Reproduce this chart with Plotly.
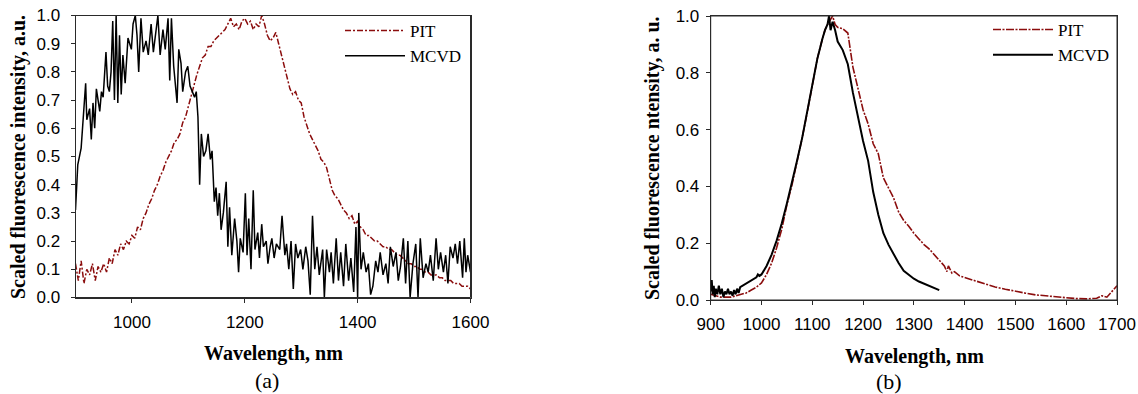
import plotly.graph_objects as go

# ---------------- data: panel (a) ----------------
pit_a_wl = [
    900, 905, 910, 915, 920, 925, 930, 935, 940, 945,
    950, 955, 960, 965, 970, 975, 980, 985, 990, 995,
    1000, 1005, 1010, 1015, 1020, 1025, 1030, 1035, 1040, 1045,
    1050, 1055, 1060, 1065, 1070, 1075, 1080, 1085, 1090, 1095,
    1100, 1105, 1110, 1115, 1120, 1125, 1130, 1135, 1140, 1145,
    1150, 1155, 1160, 1165, 1170, 1175, 1180, 1185, 1190, 1195,
    1200, 1205, 1210, 1215, 1220, 1225, 1230, 1235, 1240, 1245,
    1250, 1255, 1260, 1265, 1270, 1275, 1280, 1285, 1290, 1295,
    1300, 1305, 1310, 1315, 1320, 1325, 1330, 1335, 1340, 1345,
    1350, 1355, 1360, 1365, 1370, 1375, 1380, 1385, 1390, 1395,
    1400, 1405, 1410, 1415, 1420, 1425, 1430, 1435, 1440, 1445,
    1450, 1455, 1460, 1465, 1470, 1475, 1480, 1485, 1490, 1495,
    1500, 1505, 1510, 1515, 1520, 1525, 1530, 1535, 1540, 1545,
    1550, 1555, 1560, 1565, 1570, 1575, 1580, 1585, 1590, 1595,
    1600]
pit_a_int = [
    0.12, 0.06, 0.13, 0.05, 0.10, 0.08, 0.12, 0.06, 0.11, 0.09,
    0.12, 0.09, 0.14, 0.12, 0.17, 0.15, 0.19, 0.17, 0.20, 0.19,
    0.22, 0.21, 0.25, 0.24, 0.28, 0.30, 0.33, 0.35, 0.38, 0.40,
    0.43, 0.45, 0.48, 0.50, 0.52, 0.55, 0.56, 0.58, 0.62, 0.64,
    0.68, 0.71, 0.76, 0.79, 0.82, 0.85, 0.86, 0.89, 0.89, 0.91,
    0.92, 0.93, 0.94, 0.95, 0.97, 0.99, 0.96, 0.97, 0.95, 0.98,
    0.99, 0.97, 0.98, 0.95, 0.97, 0.96, 1.00, 0.97, 0.93, 0.91,
    0.92, 0.94, 0.90, 0.86, 0.81, 0.77, 0.74, 0.72, 0.73, 0.70,
    0.69, 0.64, 0.61, 0.58, 0.56, 0.54, 0.52, 0.49, 0.48, 0.46,
    0.42, 0.38, 0.36, 0.35, 0.33, 0.31, 0.30, 0.28, 0.29, 0.26,
    0.27, 0.25, 0.24, 0.22, 0.22, 0.21, 0.20, 0.20, 0.19, 0.18,
    0.18, 0.17, 0.17, 0.16, 0.15, 0.15, 0.14, 0.13, 0.12, 0.12,
    0.11, 0.11, 0.10, 0.10, 0.09, 0.09, 0.08, 0.08, 0.08, 0.07,
    0.07, 0.06, 0.06, 0.06, 0.05, 0.05, 0.05, 0.04, 0.04, 0.04,
    0.03]

mcvd_a_wl = [
    900, 904, 910, 918, 920, 925, 928, 931, 934, 937,
    943, 946, 949, 954, 957, 960, 963, 966, 969, 972,
    975, 978, 981, 984, 988, 993, 999, 1002, 1006, 1009,
    1012, 1016, 1020, 1025, 1029, 1034, 1038, 1043, 1046, 1050,
    1055, 1059, 1064, 1067, 1070, 1074, 1080, 1083, 1087, 1090,
    1095, 1099, 1103, 1107, 1111, 1114, 1117, 1120, 1123, 1127,
    1131, 1135, 1139, 1142, 1146, 1149, 1152, 1155, 1158, 1162,
    1167, 1170, 1173, 1177, 1182, 1186, 1189, 1192, 1197, 1201,
    1204, 1207, 1211, 1215, 1218, 1223, 1226, 1230, 1233, 1238,
    1241, 1245, 1248, 1252, 1256, 1262, 1266, 1271, 1274, 1278,
    1282, 1286, 1290, 1294, 1299, 1303, 1308, 1312, 1316, 1320,
    1324, 1328, 1332, 1338, 1341, 1345, 1350, 1353, 1357, 1362,
    1366, 1370, 1375, 1379, 1384, 1388, 1393, 1397, 1400, 1402,
    1406, 1410, 1415, 1419, 1423, 1427, 1432, 1436, 1440, 1445,
    1450, 1454, 1458, 1463, 1468, 1472, 1476, 1481, 1485, 1489,
    1493, 1498, 1503, 1507, 1511, 1516, 1521, 1525, 1529, 1534,
    1539, 1543, 1547, 1552, 1556, 1560, 1564, 1569, 1573, 1577,
    1581, 1586, 1589, 1592, 1595, 1600]
mcvd_a_int = [
    0.31, 0.47, 0.53, 0.76, 0.63, 0.67, 0.56, 0.69, 0.60, 0.74,
    0.66, 0.73, 0.71, 0.87, 0.75, 0.73, 0.80, 0.98, 0.70, 1.00,
    0.69, 0.93, 0.72, 0.86, 0.76, 0.92, 0.88, 0.97, 1.00, 0.93,
    0.80, 0.99, 0.87, 0.91, 0.86, 0.97, 0.87, 0.95, 1.00, 0.86,
    0.95, 0.88, 0.99, 0.77, 0.99, 0.82, 0.69, 0.88, 0.83, 0.73,
    0.80, 0.82, 0.75, 0.73, 0.71, 0.73, 0.64, 0.40, 0.58, 0.50,
    0.52, 0.58, 0.49, 0.52, 0.34, 0.39, 0.29, 0.37, 0.24, 0.30,
    0.41, 0.18, 0.32, 0.15, 0.28, 0.20, 0.09, 0.21, 0.16, 0.37,
    0.15, 0.28, 0.10, 0.38, 0.17, 0.23, 0.14, 0.26, 0.18, 0.20,
    0.12, 0.18, 0.21, 0.14, 0.19, 0.17, 0.29, 0.15, 0.19, 0.10,
    0.20, 0.03, 0.19, 0.14, 0.17, 0.10, 0.18, 0.13, 0.01, 0.29,
    0.10, 0.18, 0.08, 0.17, 0.00, 0.17, 0.09, 0.16, 0.05, 0.21,
    0.06, 0.16, 0.04, 0.19, 0.06, 0.14, 0.02, 0.25, 0.00, 0.30,
    0.10, 0.16, 0.09, 0.12, 0.01, 0.04, 0.13, 0.09, 0.16, 0.08,
    0.12, 0.05, 0.18, 0.11, 0.16, 0.06, 0.11, 0.21, 0.05, 0.20,
    0.00, 0.12, 0.19, 0.00, 0.21, 0.07, 0.12, 0.09, 0.15, 0.06,
    0.21, 0.10, 0.16, 0.09, 0.15, 0.05, 0.18, 0.14, 0.19, 0.12,
    0.20, 0.07, 0.21, 0.09, 0.15, 0.09]

# ---------------- data: panel (b) ----------------
pit_b_wl = [
    900, 910, 920, 930, 940, 950, 960, 970, 980, 990,
    1000, 1010, 1020, 1030, 1040, 1050, 1060, 1070, 1080, 1090,
    1100, 1110, 1120, 1125, 1130, 1135, 1140, 1145, 1150, 1160,
    1170, 1180, 1190, 1200, 1210, 1220, 1230, 1240, 1250, 1260,
    1270, 1280, 1290, 1300, 1310, 1320, 1330, 1340, 1350, 1360,
    1365, 1368, 1375, 1380, 1390, 1400, 1420, 1440, 1460, 1480,
    1500, 1520, 1540, 1560, 1580, 1600, 1620, 1640, 1660, 1670,
    1680, 1690, 1700]
pit_b_int = [
    0.020, 0.015, 0.010, 0.010, 0.010, 0.015, 0.020, 0.025, 0.035, 0.045,
    0.060, 0.090, 0.130, 0.185, 0.250, 0.335, 0.405, 0.485, 0.570, 0.660,
    0.760, 0.850, 0.920, 0.950, 0.970, 0.985, 1.000, 0.970, 0.960, 0.955,
    0.940, 0.820, 0.740, 0.670, 0.620, 0.550, 0.515, 0.430, 0.395, 0.360,
    0.310, 0.280, 0.260, 0.235, 0.215, 0.195, 0.180, 0.160, 0.140, 0.120,
    0.100, 0.120, 0.095, 0.100, 0.085, 0.080, 0.068, 0.057, 0.046, 0.038,
    0.030, 0.024, 0.018, 0.014, 0.011, 0.008, 0.005, 0.004, 0.006, 0.015,
    0.010, 0.030, 0.050]

mcvd_b_wl = [
    900, 902, 904, 906, 908, 910, 913, 916, 919, 922,
    925, 928, 931, 934, 937, 940, 943, 946, 949, 952,
    955, 958, 990, 993, 996, 1000, 1010, 1020, 1030, 1040,
    1050, 1060, 1070, 1080, 1090, 1100, 1110, 1120, 1125, 1130,
    1133, 1136, 1140, 1145, 1150, 1160, 1170, 1180, 1190, 1200,
    1210, 1220, 1230, 1240, 1250, 1260, 1270, 1280, 1290, 1300,
    1310, 1320, 1330, 1340, 1350]
mcvd_b_int = [
    0.030, 0.070, 0.020, 0.050, 0.010, 0.040, 0.020, 0.050, 0.020, 0.040,
    0.010, 0.030, 0.020, 0.040, 0.020, 0.030, 0.015, 0.035, 0.020, 0.040,
    0.025, 0.045, 0.080, 0.090, 0.085, 0.090, 0.120, 0.160, 0.210, 0.270,
    0.340, 0.410, 0.490, 0.570, 0.660, 0.760, 0.850, 0.920, 0.950, 0.970,
    1.000, 0.950, 0.980, 0.950, 0.910, 0.880, 0.830, 0.730, 0.640, 0.560,
    0.490, 0.380, 0.300, 0.235, 0.195, 0.160, 0.130, 0.103, 0.088, 0.075,
    0.065, 0.057, 0.050, 0.042, 0.035]

# ---------------- ticks / labels ----------------
x_ticks_a = [1000, 1200, 1400, 1600]
y_ticks_a = [0.0, 0.1, 0.2, 0.3, 0.4, 0.5, 0.6, 0.7, 0.8, 0.9, 1.0]
x_ticks_b = [900, 1000, 1100, 1200, 1300, 1400, 1500, 1600, 1700]
y_ticks_b = [0.0, 0.2, 0.4, 0.6, 0.8, 1.0]

PIT_COLOR = "#8b0d0d"
AXIS_COLOR = "#2a2a2a"
SERIF = "Liberation Serif, Times New Roman, serif"
SANS = "Liberation Sans, Arial, sans-serif"

W, H = 1138, 394


def fx(p):
    return p / W


def fy(p):
    return 1 - p / H


fig = go.Figure()
fig.add_trace(go.Scatter(x=pit_a_wl, y=pit_a_int, name="PIT", mode="lines",
                         line=dict(color=PIT_COLOR, width=1.5, dash="6px,2px,2px,2px"),
                         xaxis="x", yaxis="y", legend="legend"))
fig.add_trace(go.Scatter(x=mcvd_a_wl, y=mcvd_a_int, name="MCVD", mode="lines",
                         line=dict(color="black", width=1.5),
                         xaxis="x", yaxis="y", legend="legend"))
fig.add_trace(go.Scatter(x=pit_b_wl, y=pit_b_int, name="PIT", mode="lines",
                         line=dict(color=PIT_COLOR, width=1.6, dash="8px,1.5px,2px,1.5px"),
                         xaxis="x2", yaxis="y2", legend="legend2"))
fig.add_trace(go.Scatter(x=mcvd_b_wl, y=mcvd_b_int, name="MCVD", mode="lines",
                         line=dict(color="black", width=2),
                         xaxis="x2", yaxis="y2", legend="legend2"))

axis_style = dict(showline=True, linecolor=AXIS_COLOR, linewidth=1, mirror=True,
                  ticks="outside", ticklen=4, tickcolor=AXIS_COLOR, showgrid=False,
                  zeroline=False, automargin=False,
                  tickfont=dict(family=SANS, size=17, color="black"))

fig.update_layout(
    template="none",
    width=W, height=H, autosize=False,
    margin=dict(l=0, r=0, t=0, b=0, pad=0),
    paper_bgcolor="white", plot_bgcolor="white",
    xaxis=dict(domain=[fx(75.5), fx(470.5)], range=[900, 1600], anchor="y",
               tickvals=x_ticks_a, ticktext=[str(v) for v in x_ticks_a],
               ticklabelstandoff=5, **axis_style),
    yaxis=dict(domain=[fy(297.5), fy(15.5)], range=[0, 1], anchor="x",
               tickvals=y_ticks_a, ticktext=[f"{v:.1f}" for v in y_ticks_a],
               ticklabelstandoff=7, **axis_style),
    xaxis2=dict(domain=[fx(710.7), fx(1117)], range=[900, 1700], anchor="y2",
                tickvals=x_ticks_b, ticktext=[str(v) for v in x_ticks_b],
                ticklabelstandoff=5, **axis_style),
    yaxis2=dict(domain=[fy(300), fy(16)], range=[0, 1], anchor="x2",
                tickvals=y_ticks_b, ticktext=[f"{v:.1f}" for v in y_ticks_b],
                ticklabelstandoff=3, **axis_style),
    legend=dict(x=fx(340), y=fy(13), xanchor="left", yanchor="top",
                bgcolor="rgba(0,0,0,0)", borderwidth=0, itemwidth=60,
                font=dict(family=SERIF, size=17, color="black"), tracegroupgap=0),
    legend2=dict(x=fx(988), y=fy(12), xanchor="left", yanchor="top",
                 bgcolor="rgba(0,0,0,0)", borderwidth=0, itemwidth=60,
                 font=dict(family=SERIF, size=17, color="black"), tracegroupgap=0),
    showlegend=True,
)

# plot-area frames (closed box around each panel), in axis-domain coordinates
for xr, yr in (("x domain", "y domain"), ("x2 domain", "y2 domain")):
    fig.add_shape(type="rect", xref=xr, yref=yr, x0=0, x1=1, y0=0, y1=1,
                  line=dict(color=AXIS_COLOR, width=1), fillcolor="rgba(0,0,0,0)",
                  layer="above")

annotations = [
    dict(text="<b>Wavelength, nm</b>", x=fx(273), y=fy(353)),
    dict(text="<b>Wavelength, nm</b>", x=fx(914), y=fy(356)),
    dict(text="<b>Scaled fluorescence intensity, a.u.</b>", x=fx(19), y=fy(157), textangle=-90),
    dict(text="<b>Scaled fluorescence ntensity, a. u.</b>", x=fx(652), y=fy(158), textangle=-90),
]
for a in annotations:
    fig.add_annotation(xref="paper", yref="paper", xanchor="center", yanchor="middle",
                       showarrow=False, font=dict(family=SERIF, size=20, color="black"), **a)
fig.add_annotation(text="(a)", xref="paper", yref="paper", x=fx(267), y=fy(380),
                   xanchor="center", yanchor="middle", showarrow=False,
                   font=dict(family=SERIF, size=22, color="black"))
fig.add_annotation(text="(b)", xref="paper", yref="paper", x=fx(889), y=fy(381),
                   xanchor="center", yanchor="middle", showarrow=False,
                   font=dict(family=SERIF, size=22, color="black"))

# remove the default 8px page margin so the figure fills the window exactly
fig.write_html("out.html",
               config={"displayModeBar": False},
               post_script="document.body.style.margin='0px';"
                           "document.body.style.overflow='hidden';")
